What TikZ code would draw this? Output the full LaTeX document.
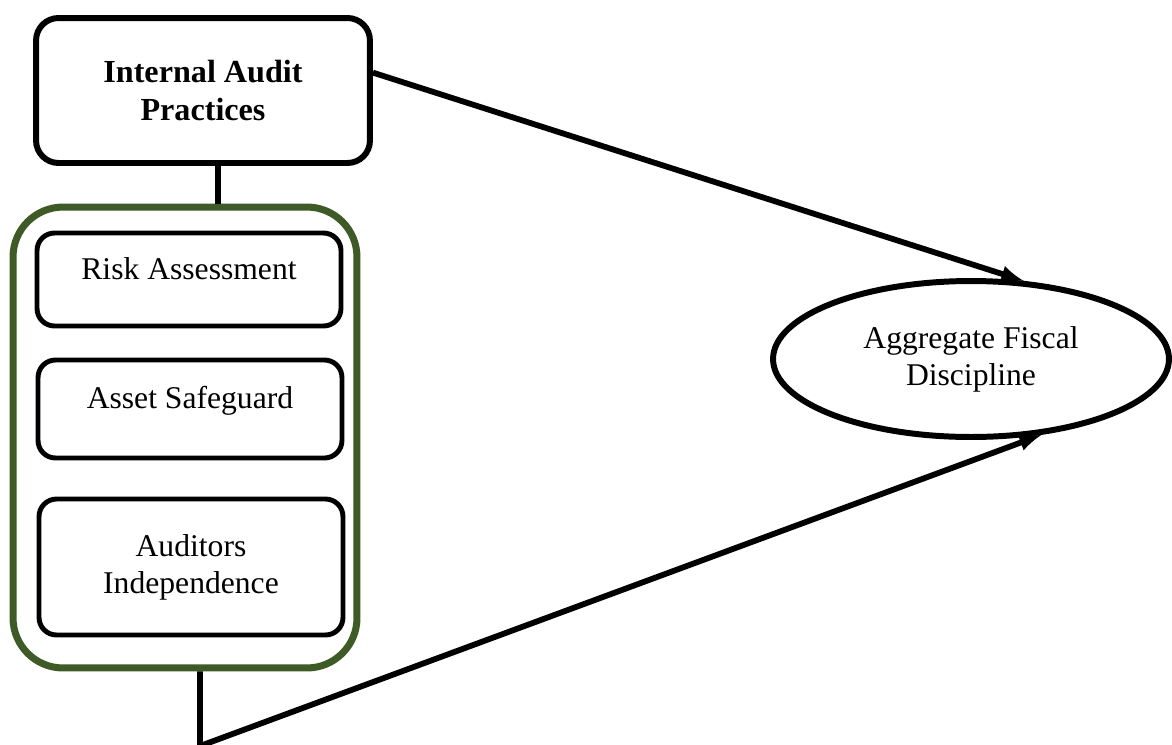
\documentclass[tikz,border=0pt]{standalone}
\usepackage{fontspec}
\setmainfont{Liberation Serif}
\usepackage{xcolor}
\definecolor{g1}{HTML}{3D5A27}
\usetikzlibrary{shapes.geometric}

\begin{document}
\begin{tikzpicture}[x=0.02cm,y=-0.02cm,
	font=\fontsize{18}{21}\selectfont,
	box/.style={draw,rounded corners=0.35cm,line width=2.8pt,align=center,minimum width=6.08cm},
	raised/.style={text depth=0.45cm},
	conn/.style={line width=3.3pt}]
	\useasboundingbox (0,0) rectangle (1172,744);

	% independent variable
	\node [draw,rounded corners=0.45cm,line width=3.4pt,align=center,minimum width=6.68cm,minimum height=2.9cm,font=\fontsize{18.3}{21.5}\selectfont\bfseries] (iap) at (203,90.5) {Internal Audit\\Practices};

	% its dimensions
	\node [draw=g1,line width=4pt,rounded corners=1cm,minimum width=6.88cm,minimum height=9.22cm] (grp) at (185,437.5) {};
	\node [box,raised,minimum height=1.86cm] (risk) at (189,279.5) {Risk Assessment};
	\node [box,raised,minimum height=1.96cm] (asset) at (190,409) {Asset Safeguard};
	\node [box,minimum height=2.72cm] (indep) at (191,567) {Auditors\\Independence};

	% dependent variable
	\node [draw,ellipse,line width=3.4pt,align=center,minimum width=7.92cm,minimum height=3.12cm] (afd) at (971,359) {Aggregate Fiscal\\Discipline};

	\coordinate (joint) at ([xshift=0.3cm]iap.south);
	\coordinate (bend) at (200,746);
	\draw [conn] (joint) -- (joint |- grp.north);
	\draw [conn,-latex] (iap.6) -- (afd.56);
	\draw [conn,-latex] (bend |- grp.south) -- (bend) -- (afd.-47);
\end{tikzpicture}
\end{document}
